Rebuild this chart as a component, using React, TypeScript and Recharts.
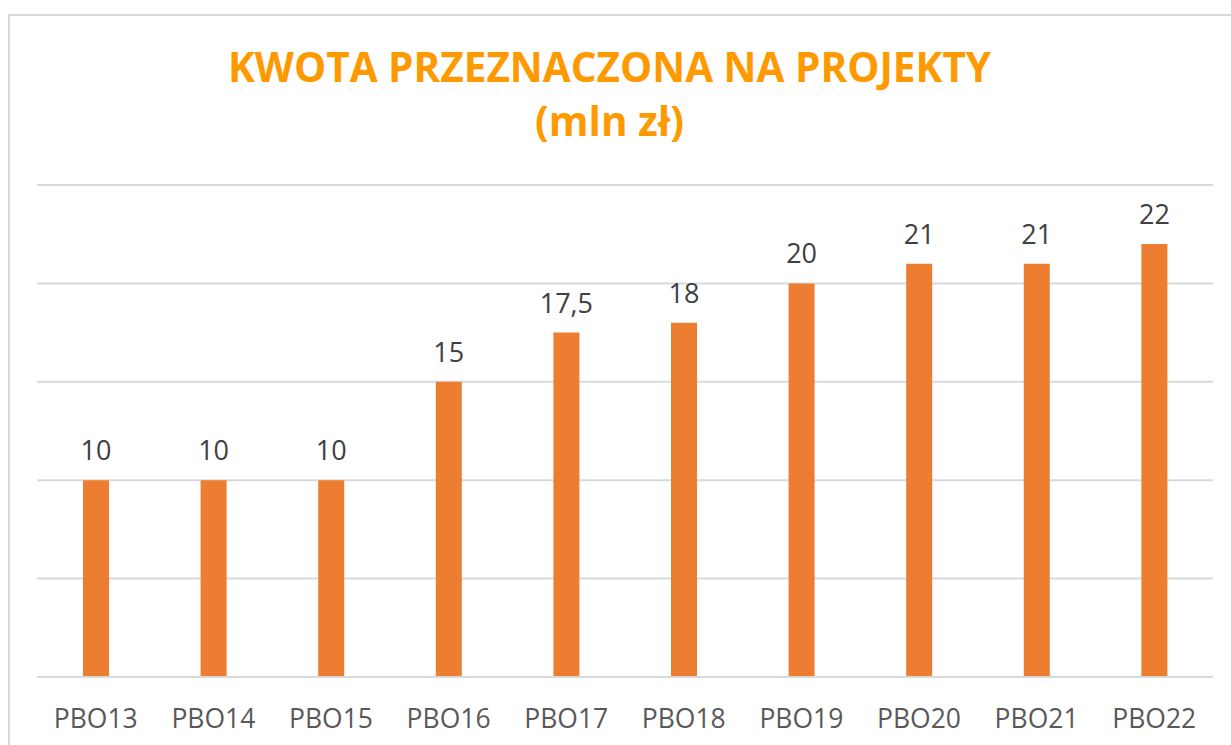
import React from "react";
import { Bar, BarChart, CartesianGrid, LabelList, XAxis, YAxis } from "recharts";

const editions = ["PBO13", "PBO14", "PBO15", "PBO16", "PBO17", "PBO18", "PBO19", "PBO20", "PBO21", "PBO22"];
const amounts = [10, 10, 10, 15, 17.5, 18, 20, 21, 21, 22];
const yTicks = [0, 5, 10, 15, 20, 25];

const data = editions.map((name, i) => ({ name, amount: amounts[i] }));

const font = "'Open Sans', 'DejaVu Sans', sans-serif";

export default function App() {
  return (
    <div style={{ position: "absolute", left: 0, top: 0, width: 1231, height: 745, overflow: "hidden", background: "#fff" }}>
      <div
        style={{
          position: "absolute",
          left: 8,
          top: 14,
          width: 1260,
          height: 760,
          border: "2px solid #d9d9d9",
          boxSizing: "border-box"
        }}
      />
      <div
        style={{
          position: "absolute",
          left: -6,
          top: 40,
          width: 1231,
          textAlign: "center",
          fontFamily: font,
          fontWeight: 700,
          fontSize: 40.5,
          lineHeight: "54px",
          color: "#ff9900"
        }}
      >
        KWOTA PRZEZNACZONA NA PROJEKTY
        <br />
        (mln zł)
      </div>
      <div style={{ position: "absolute", left: 0, top: 0 }}>
        <BarChart width={1231} height={745} data={data} margin={{ top: 185, right: 18, left: 37, bottom: 0 }}>
          <CartesianGrid vertical={false} stroke="#d9d9d9" strokeWidth={2} />
          <YAxis hide domain={[0, 25]} ticks={yTicks} />
          <XAxis
            dataKey="name"
            height={68}
            tickSize={0}
            tickMargin={32}
            axisLine={{ stroke: "#d9d9d9", strokeWidth: 2 }}
            tickLine={false}
            tick={{ fill: "#595959", fontSize: 26.5, fontFamily: font }}
          />
          <Bar dataKey="amount" fill="#ed7d31" barSize={26} isAnimationActive={false}>
            <LabelList
              dataKey="amount"
              position="top"
              offset={20}
              fill="#404040"
              fontSize={27}
              fontFamily={font}
              formatter={(v: number) => String(v).replace(".", ",")}
            />
          </Bar>
        </BarChart>
      </div>
    </div>
  );
}
